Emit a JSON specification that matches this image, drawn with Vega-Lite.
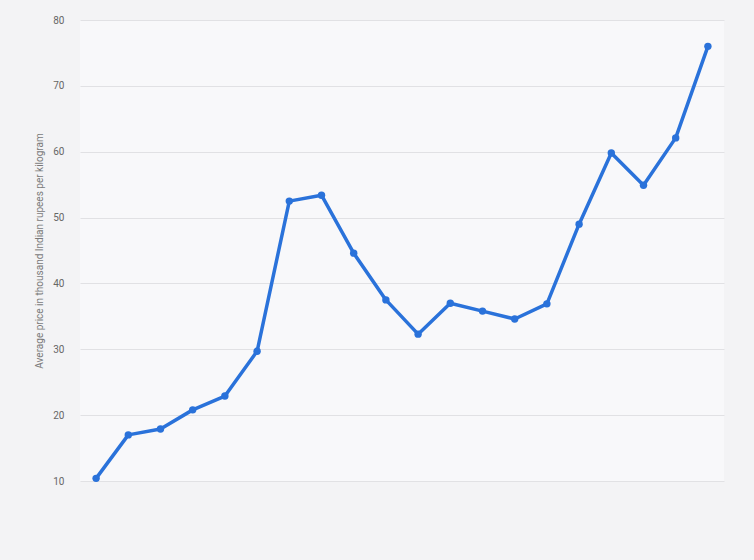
{
  "$schema": "https://vega.github.io/schema/vega-lite/v6.json",
  "width": 644,
  "height": 461,
  "autosize": {"type": "none"},
  "padding": {"left": 80, "top": 20, "right": 30, "bottom": 79},
  "background": "#f3f3f5",
  "config": {
    "view": {"fill": "#f8f8fa", "stroke": null},
    "font": "Roboto"
  },
  "data": {
    "values": [
      {"point": 1, "price": 10.4},
      {"point": 2, "price": 17.0},
      {"point": 3, "price": 17.9},
      {"point": 4, "price": 20.8},
      {"point": 5, "price": 22.9},
      {"point": 6, "price": 29.7},
      {"point": 7, "price": 52.5},
      {"point": 8, "price": 53.4},
      {"point": 9, "price": 44.6},
      {"point": 10, "price": 37.5},
      {"point": 11, "price": 32.3},
      {"point": 12, "price": 37.0},
      {"point": 13, "price": 35.8},
      {"point": 14, "price": 34.6},
      {"point": 15, "price": 36.9},
      {"point": 16, "price": 49.0},
      {"point": 17, "price": 59.8},
      {"point": 18, "price": 54.9},
      {"point": 19, "price": 62.1},
      {"point": 20, "price": 76.0}
    ]
  },
  "mark": {
    "type": "line",
    "color": "#2a72da",
    "strokeWidth": 3.5,
    "strokeJoin": "round",
    "point": {"filled": true, "size": 55, "color": "#2a72da"}
  },
  "encoding": {
    "x": {
      "field": "point",
      "type": "ordinal",
      "axis": null,
      "scale": {"type": "band", "paddingInner": 0, "paddingOuter": 0}
    },
    "y": {
      "field": "price",
      "type": "quantitative",
      "scale": {"domain": [10, 80], "nice": false, "zero": false},
      "axis": {
        "title": "Average price in thousand Indian rupees per kilogram",
        "titleFontSize": 10,
        "titleFontWeight": "normal",
        "titleColor": "#7a7a7a",
        "titlePadding": 8,
        "values": [10, 20, 30, 40, 50, 60, 70, 80],
        "labelFontSize": 10,
        "labelColor": "#666666",
        "labelPadding": 16,
        "ticks": false,
        "domain": false,
        "grid": true,
        "gridColor": "#e1e1e4",
        "gridWidth": 1
      }
    }
  }
}
